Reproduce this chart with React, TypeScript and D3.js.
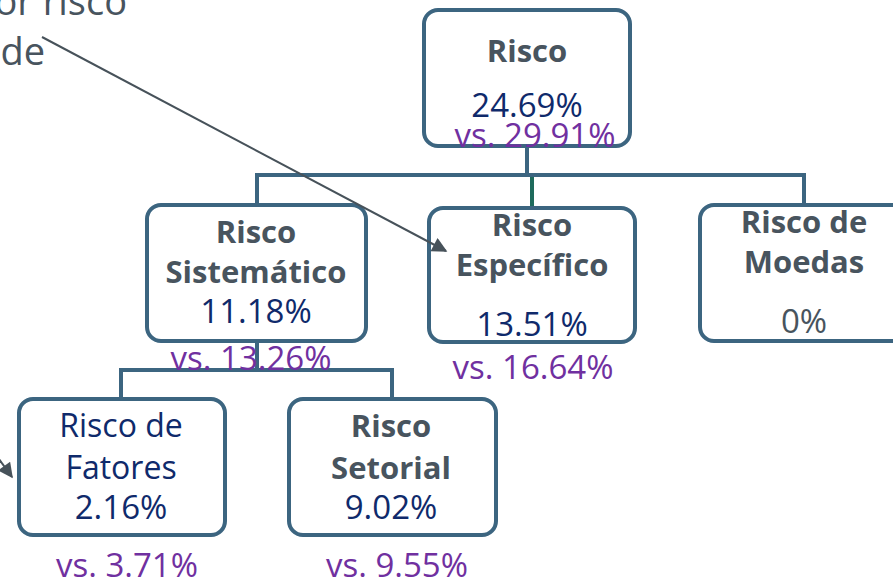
import React from "react";
import * as d3 from "d3";

// ---- data ----
const nodeIds = ["total", "sist", "espec", "moedas", "fatores", "setorial"];
const nodeParents = ["", "total", "total", "total", "sist", "sist"];
const nodeTitles = [
  ["Risco"],
  ["Risco", "Sistemático"],
  ["Risco", "Específico"],
  ["Risco de", "Moedas"],
  ["Risco de", "Fatores"],
  ["Risco", "Setorial"],
];
const nodeValues = [24.69, 11.18, 13.51, 0, 2.16, 9.02];
const compareValues = [29.91, 13.26, 16.64, null, 3.71, 9.55];
const noteLines = ["or risco", "de"];

// ---- layout (positions / styles) ----
type Box = { x0: number; x1: number; y0: number; y1: number; cx: number; cmpX: number; title: number[]; val: number; cmp: number; bold: boolean; titleColor: string; valColor: string; joinY?: number; stemColor?: string };
const layout: Record<string, Box> = {
  total: { x0: 422, x1: 632, y0: 8, y1: 148, cx: 527, cmpX: 535, title: [62], val: 117, cmp: 147, bold: true, titleColor: "#48545E", valColor: "#0F2A6B", joinY: 175 },
  sist: { x0: 145, x1: 368, y0: 203, y1: 343, cx: 256, cmpX: 251, title: [243, 283], val: 323, cmp: 370, bold: true, titleColor: "#48545E", valColor: "#0F2A6B", joinY: 370 },
  espec: { x0: 427, x1: 637, y0: 206, y1: 344, cx: 532, cmpX: 533, title: [236, 276], val: 336, cmp: 379, bold: true, titleColor: "#48545E", valColor: "#0F2A6B", stemColor: "#1E6B5C" },
  moedas: { x0: 698, x1: 915, y0: 203, y1: 343, cx: 804, cmpX: 804, title: [233, 273], val: 333, cmp: 0, bold: true, titleColor: "#48545E", valColor: "#48545E" },
  fatores: { x0: 17, x1: 227, y0: 397, y1: 537, cx: 121, cmpX: 127, title: [437, 479], val: 519, cmp: 577, bold: false, titleColor: "#0F2A6B", valColor: "#0F2A6B" },
  setorial: { x0: 287, x1: 498, y0: 397, y1: 537, cx: 391, cmpX: 397, title: [437, 479], val: 519, cmp: 577, bold: true, titleColor: "#48545E", valColor: "#0F2A6B" },
};
const stemX: Record<string, number> = { total: 527, sist: 257, espec: 532, moedas: 804, fatores: 121, setorial: 392 };

const BORDER = "#3C6580";
const PURPLE = "#7030A0";
const GRAY = "#48545E";
const FONT = "'Open Sans', 'Noto Sans', sans-serif";
const FS_BOLD = 31;
const FS_REG = 33;
const FS_NOTE = 38;

const fmt = (v: number) => `${d3.format(".2~f")(v)}%`;

export default function App() {
  const W = 893, H = 577;
  const table = nodeIds.map((id, i) => ({ id, parent: nodeParents[i] || null, i }));
  const root = d3.stratify<any>().id((d: any) => d.id).parentId((d: any) => d.parent)(table);

  const connectors: { d: string; color: string }[] = [];
  root.each((node) => {
    if (!node.children) return;
    const p = layout[node.id!];
    const joinY = p.joinY!;
    const xs = node.children.map((c) => stemX[c.id!]);
    const path = d3.path();
    path.moveTo(stemX[node.id!], p.y1);
    path.lineTo(stemX[node.id!], joinY);
    path.moveTo(d3.min(xs)! - 2, joinY);
    path.lineTo(d3.max(xs)! + 2, joinY);
    connectors.push({ d: path.toString(), color: BORDER });
    node.children.forEach((c) => {
      const b = layout[c.id!];
      const cp = d3.path();
      cp.moveTo(stemX[c.id!], joinY + (b.stemColor ? 2 : 0));
      cp.lineTo(stemX[c.id!], b.y0);
      connectors.push({ d: cp.toString(), color: b.stemColor || BORDER });
    });
  });

  const line = d3.line<[number, number]>();
  const arrow1: [number, number][] = [[42, 37], [446, 251]];
  const arrow2: [number, number][] = [[-12, 444], [12, 477]];

  return (
    <svg width={W} height={H} style={{ position: "fixed", left: 0, top: 0, background: "#fff" }} fontFamily={FONT}>
      <defs>
        <marker id="ah" viewBox="0 0 10 10" refX="9" refY="5" markerWidth="17" markerHeight="15" markerUnits="userSpaceOnUse" orient="auto">
          <path d="M0,0 L10,5 L0,10 z" fill="#47525A" />
        </marker>
      </defs>
      <rect width={W} height={H} fill="#fff" />
      {/* note text */}
      <text x={127} y={15} textAnchor="end" fontSize={FS_NOTE} fill={GRAY}>{noteLines[0]}</text>
      <text x={45} y={65} textAnchor="end" fontSize={FS_NOTE} fill={GRAY}>{noteLines[1]}</text>

      {connectors.map((c, i) => (
        <path key={i} d={c.d} stroke={c.color} strokeWidth={4} fill="none" />
      ))}

      {nodeIds.map((id, i) => {
        const b = layout[id];
        return (
          <g key={id}>
            <rect x={b.x0 + 2} y={b.y0 + 2} width={b.x1 - b.x0 - 4} height={b.y1 - b.y0 - 4} rx={14} ry={14} fill="#fff" stroke={BORDER} strokeWidth={4} />
            {nodeTitles[i].map((t, k) => (
              <text key={k} x={b.cx} y={b.title[k]} textAnchor="middle" fontSize={b.bold ? FS_BOLD : 32} fontWeight={b.bold ? 700 : 400} fill={b.titleColor}>{t}</text>
            ))}
            <text x={b.cx} y={b.val} textAnchor="middle" fontSize={FS_REG} fill={b.valColor}>{fmt(nodeValues[i])}</text>
            {compareValues[i] != null && (
              <text x={b.cmpX} y={b.cmp} textAnchor="middle" fontSize={FS_REG} fill={PURPLE}>{`vs. ${fmt(compareValues[i] as number)}`}</text>
            )}
          </g>
        );
      })}

      <path d={line(arrow1)!} stroke="#47525A" strokeWidth={2} fill="none" markerEnd="url(#ah)" />
      <path d={line(arrow2)!} stroke="#47525A" strokeWidth={2} fill="none" markerEnd="url(#ah)" />
    </svg>
  );
}
